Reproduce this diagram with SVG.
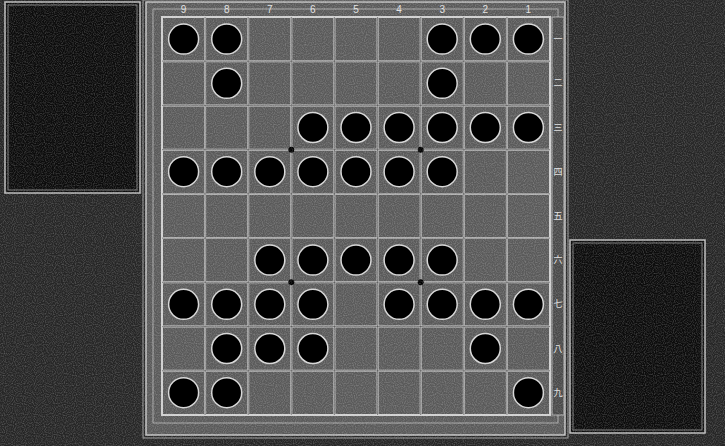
<svg xmlns="http://www.w3.org/2000/svg" width="725" height="446" viewBox="0 0 725 446">
<defs>
<style>
.bg{fill:#262626}
.panel{fill:#0c0c0c;stroke:#bdbdbd;stroke-width:1.5}
.panel2{fill:none;stroke:#7a7a7a;stroke-width:1}
.board{fill:#5a5a5a;stroke:#c4c4c4;stroke-width:1.5}
.grid{stroke:#cfcfcf;stroke-width:2;fill:none}
.grid2{stroke:#3a3a3a;stroke-width:0.6;fill:none}
.stone{fill:#000;stroke:#d8d8d8;stroke-width:1.5}
.star{fill:#000}
.lbl{font-family:"Liberation Sans",sans-serif;font-size:10px;fill:#e0e0e0;text-anchor:middle}
.klbl{font-family:"Noto Sans CJK JP","Noto Sans CJK SC",sans-serif;font-size:9px;fill:#e0e0e0;text-anchor:middle}
</style>
<filter id="noise" x="0" y="0" width="100%" height="100%">
<feTurbulence type="fractalNoise" baseFrequency="0.9" numOctaves="1" seed="3" result="n"/>
<feColorMatrix type="matrix" values="0 0 0 0 1  0 0 0 0 1  0 0 0 0 1  0 0 0 0.5 -0.2"/>
</filter>
</defs>
<rect class="bg" x="0" y="0" width="725" height="446"/>
<g id="left-stand">
<rect class="panel" x="5" y="2" width="135" height="191"/>
<rect class="panel2" x="8" y="5" width="129" height="185"/>
</g>
<g id="right-stand">
<rect class="panel" x="570" y="240" width="135" height="193"/>
<rect class="panel2" x="573" y="243" width="129" height="187"/>
</g>
<g id="board">
<rect x="143" y="0" width="425" height="438" fill="none" stroke="#9a9a9a" stroke-width="1"/>
<rect class="board" x="146" y="2" width="419" height="433"/>
<rect x="153" y="9" width="405" height="414" fill="none" stroke="#a8a8a8" stroke-width="1"/>
<rect x="552" y="17" width="12" height="398" fill="#4a4a4a" stroke="#b0b0b0" stroke-width="1"/>
<g class="grid">
<rect x="162" y="17" width="388" height="398"/>
<path d="M205.1 17V415M248.2 17V415M291.3 17V415M334.4 17V415M377.6 17V415M420.7 17V415M463.8 17V415M506.9 17V415"/>
<path d="M162 61.2H550M162 105.4H550M162 149.7H550M162 193.9H550M162 238.1H550M162 282.3H550M162 326.6H550M162 370.8H550"/>
</g>
<g class="grid2">
<path d="M205.1 17V415M248.2 17V415M291.3 17V415M334.4 17V415M377.6 17V415M420.7 17V415M463.8 17V415M506.9 17V415"/>
<path d="M162 61.2H550M162 105.4H550M162 149.7H550M162 193.9H550M162 238.1H550M162 282.3H550M162 326.6H550M162 370.8H550"/>
</g>
<g id="stars">
<circle class="star" cx="291.3" cy="149.7" r="3"/>
<circle class="star" cx="420.7" cy="149.7" r="3"/>
<circle class="star" cx="291.3" cy="282.3" r="3"/>
<circle class="star" cx="420.7" cy="282.3" r="3"/>
</g>
<g id="file-labels">
<text class="lbl" x="183.6" y="13">9</text>
<text class="lbl" x="226.7" y="13">8</text>
<text class="lbl" x="269.8" y="13">7</text>
<text class="lbl" x="312.9" y="13">6</text>
<text class="lbl" x="356" y="13">5</text>
<text class="lbl" x="399.1" y="13">4</text>
<text class="lbl" x="442.2" y="13">3</text>
<text class="lbl" x="485.3" y="13">2</text>
<text class="lbl" x="528.4" y="13">1</text>
</g>
<g id="rank-labels">
<text class="klbl" x="558" y="42">一</text>
<text class="klbl" x="558" y="86">二</text>
<text class="klbl" x="558" y="131">三</text>
<text class="klbl" x="558" y="175">四</text>
<text class="klbl" x="558" y="219">五</text>
<text class="klbl" x="558" y="263">六</text>
<text class="klbl" x="558" y="307">七</text>
<text class="klbl" x="558" y="352">八</text>
<text class="klbl" x="558" y="396">九</text>
</g>
</g>
<rect x="0" y="0" width="725" height="446" filter="url(#noise)"/>
<g id="stones">
<g id="s-1-9"><circle class="stone" cx="183.6" cy="39.1" r="15"/></g>
<g id="s-1-8"><circle class="stone" cx="226.7" cy="39.1" r="15"/></g>
<g id="s-1-3"><circle class="stone" cx="442.2" cy="39.1" r="15"/></g>
<g id="s-1-2"><circle class="stone" cx="485.3" cy="39.1" r="15"/></g>
<g id="s-1-1"><circle class="stone" cx="528.4" cy="39.1" r="15"/></g>
<g id="s-2-8"><circle class="stone" cx="226.7" cy="83.3" r="15"/></g>
<g id="s-2-3"><circle class="stone" cx="442.2" cy="83.3" r="15"/></g>
<g id="s-3-6"><circle class="stone" cx="312.9" cy="127.5" r="15"/></g>
<g id="s-3-5"><circle class="stone" cx="356" cy="127.5" r="15"/></g>
<g id="s-3-4"><circle class="stone" cx="399.1" cy="127.5" r="15"/></g>
<g id="s-3-3"><circle class="stone" cx="442.2" cy="127.5" r="15"/></g>
<g id="s-3-2"><circle class="stone" cx="485.3" cy="127.5" r="15"/></g>
<g id="s-3-1"><circle class="stone" cx="528.4" cy="127.5" r="15"/></g>
<g id="s-4-9"><circle class="stone" cx="183.6" cy="171.7" r="15"/></g>
<g id="s-4-8"><circle class="stone" cx="226.7" cy="171.7" r="15"/></g>
<g id="s-4-7"><circle class="stone" cx="269.8" cy="171.7" r="15"/></g>
<g id="s-4-6"><circle class="stone" cx="312.9" cy="171.7" r="15"/></g>
<g id="s-4-5"><circle class="stone" cx="356" cy="171.7" r="15"/></g>
<g id="s-4-4"><circle class="stone" cx="399.1" cy="171.7" r="15"/></g>
<g id="s-4-3"><circle class="stone" cx="442.2" cy="171.7" r="15"/></g>
<g id="s-6-7"><circle class="stone" cx="269.8" cy="260.1" r="15"/></g>
<g id="s-6-6"><circle class="stone" cx="312.9" cy="260.1" r="15"/></g>
<g id="s-6-5"><circle class="stone" cx="356" cy="260.1" r="15"/></g>
<g id="s-6-4"><circle class="stone" cx="399.1" cy="260.1" r="15"/></g>
<g id="s-6-3"><circle class="stone" cx="442.2" cy="260.1" r="15"/></g>
<g id="s-7-9"><circle class="stone" cx="183.6" cy="304.3" r="15"/></g>
<g id="s-7-8"><circle class="stone" cx="226.7" cy="304.3" r="15"/></g>
<g id="s-7-7"><circle class="stone" cx="269.8" cy="304.3" r="15"/></g>
<g id="s-7-6"><circle class="stone" cx="312.9" cy="304.3" r="15"/></g>
<g id="s-7-4"><circle class="stone" cx="399.1" cy="304.3" r="15"/></g>
<g id="s-7-3"><circle class="stone" cx="442.2" cy="304.3" r="15"/></g>
<g id="s-7-2"><circle class="stone" cx="485.3" cy="304.3" r="15"/></g>
<g id="s-7-1"><circle class="stone" cx="528.4" cy="304.3" r="15"/></g>
<g id="s-8-8"><circle class="stone" cx="226.7" cy="348.5" r="15"/></g>
<g id="s-8-7"><circle class="stone" cx="269.8" cy="348.5" r="15"/></g>
<g id="s-8-6"><circle class="stone" cx="312.9" cy="348.5" r="15"/></g>
<g id="s-8-2"><circle class="stone" cx="485.3" cy="348.5" r="15"/></g>
<g id="s-9-9"><circle class="stone" cx="183.6" cy="392.7" r="15"/></g>
<g id="s-9-8"><circle class="stone" cx="226.7" cy="392.7" r="15"/></g>
<g id="s-9-1"><circle class="stone" cx="528.4" cy="392.7" r="15"/></g>
</g>
<g id="connectors"/>
</svg>
